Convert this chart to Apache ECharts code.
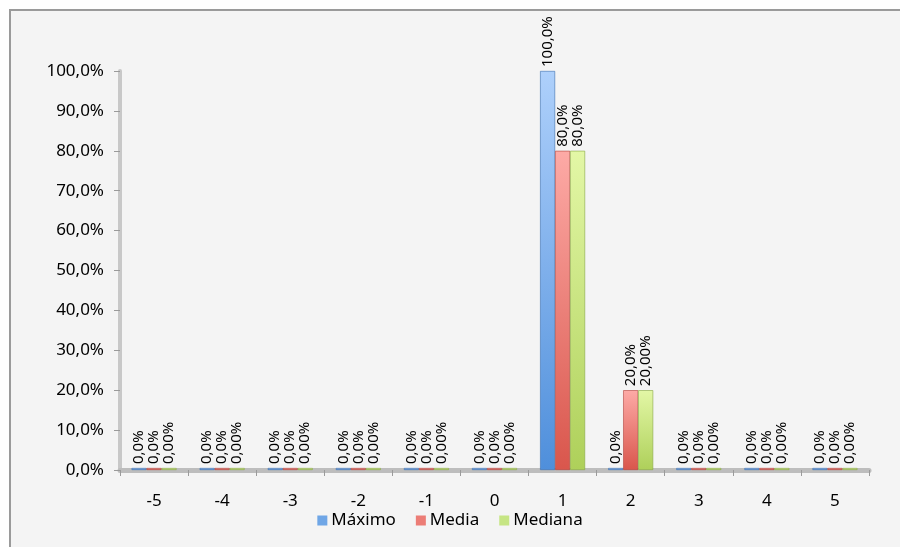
<!DOCTYPE html>
<html>
<head>
<meta charset="utf-8">
<script src="https://cdn.jsdelivr.net/npm/echarts@6/dist/echarts.min.js"></script>
<style>
html,body{margin:0;padding:0;background:#ffffff;overflow:hidden;width:900px;height:547px;}
#wrap{position:absolute;left:0;top:0;width:900px;height:547px;background:#ffffff;overflow:hidden;}
#frame{position:absolute;left:9px;top:9px;width:900px;height:547px;background:#f4f4f4;border-left:2px solid #9a9a9a;border-top:2px solid #9a9a9a;}
#chart{position:absolute;left:0;top:0;width:900px;height:547px;}
</style>
</head>
<body>
<div id="wrap"><div id="frame"></div><div id="chart"></div></div>
<script>
var categories = ['-5','-4','-3','-2','-1','0','1','2','3','4','5'];
var maximo  = [0,0,0,0,0,0,100,0,0,0,0];
var media   = [0,0,0,0,0,0,80,20,0,0,0];
var mediana = [0,0,0,0,0,0,80,20,0,0,0];
var maximoDecimals  = [1,1,1,1,1,1,1,1,1,1,1];
var mediaDecimals   = [1,1,1,1,1,1,1,1,1,1,1];
var medianaDecimals = [2,2,2,2,2,2,1,2,2,2,2];
var seriesNames = ['Máximo','Media','Mediana'];

function fmt(v, d){ return v.toFixed(d).replace('.', ',') + '%'; }
function grad(top, bottom){
  return new echarts.graphic.LinearGradient(0,0,0,1,[{offset:0,color:top},{offset:1,color:bottom}]);
}
var font = "'Noto Sans', 'Open Sans', sans-serif";
function mkSeries(name, data, decs, cTop, cBot, edge, legendColor){
  return {
    name: name, type: 'bar', data: data,
    barWidth: 15, barGap: '0%', barMinHeight: 2,
    itemStyle: { color: grad(cTop, cBot), borderColor: edge, borderWidth: 0.6 },
    label: {
      show: true, position: 'top', rotate: 90, align: 'left', verticalAlign: 'middle',
      distance: 4, fontSize: 15, fontFamily: font, color: '#000',
      formatter: function(p){ return fmt(p.value, decs[p.dataIndex]); }
    }
  };
}
var chart = echarts.init(document.getElementById('chart'), null, {renderer:'canvas'});
chart.setOption({
  animation: false,
  backgroundColor: 'transparent',
  textStyle: { fontFamily: font },
  grid: { left: 120, right: 31, top: 71, bottom: 77, containLabel: false },
  legend: {
    bottom: 13, left: 'center', icon: 'rect', itemWidth: 10, itemHeight: 10, itemGap: 20,
    itemStyle: { borderWidth: 0 },
    textStyle: { fontSize: 17, fontFamily: font, color: '#000', padding: [0,0,0,-1] },
    data: [
      { name: seriesNames[0], itemStyle: { color: '#6fa6e6', borderWidth: 0 } },
      { name: seriesNames[1], itemStyle: { color: '#ec7d76', borderWidth: 0 } },
      { name: seriesNames[2], itemStyle: { color: '#c6e584', borderWidth: 0 } }
    ]
  },
  xAxis: {
    type: 'category', data: categories,
    axisLine: { lineStyle: { color: '#bdbdbd', width: 5 } },
    axisTick: { show: true, length: 6, lineStyle: { color: '#9a9a9a' } },
    axisLabel: { fontSize: 17, fontFamily: font, color: '#000', margin: 23 }
  },
  yAxis: {
    type: 'value', min: 0, max: 100, interval: 10,
    axisLine: { show: true, lineStyle: { color: '#c8c8c8', width: 4 } },
    axisTick: { show: true, length: 6, lineStyle: { color: '#9a9a9a' } },
    splitLine: { show: false },
    axisLabel: { fontSize: 17, fontFamily: font, color: '#000', margin: 16,
      formatter: function(v){ return fmt(v, 1); } }
  },
  series: [
    mkSeries(seriesNames[0], maximo, maximoDecimals, '#aed0fb', '#4f8fdb', '#3c6fae'),
    mkSeries(seriesNames[1], media, mediaDecimals, '#fdaaa6', '#d9564c', '#b0423a'),
    mkSeries(seriesNames[2], mediana, medianaDecimals, '#e3f7a6', '#aed05a', '#86a643')
  ]
});
</script>
</body>
</html>
